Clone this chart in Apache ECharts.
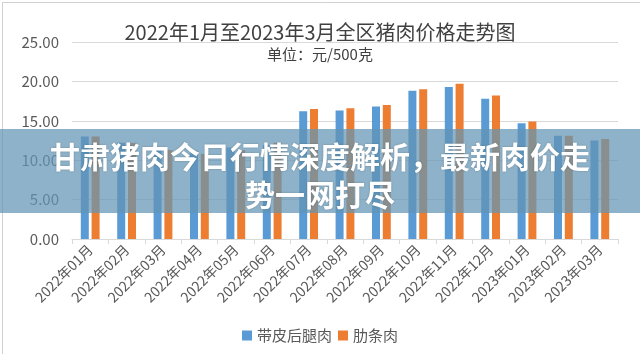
<!DOCTYPE html>
<html>
<head>
<meta charset="utf-8">
<script src="https://cdn.jsdelivr.net/npm/echarts@6/dist/echarts.min.js"></script>
<style>
  html, body { margin: 0; padding: 0; background: #fff; }
  #main { width: 640px; height: 354px; }
</style>
</head>
<body>
<div id="main"></div>
<script>
// 月份
var months = ['2022年01月','2022年02月','2022年03月','2022年04月','2022年05月','2022年06月',
    '2022年07月','2022年08月','2022年09月','2022年10月','2022年11月','2022年12月',
    '2023年01月','2023年02月','2023年03月'];
// 带皮后腿肉
var houtui = [13.0, 12.2, 11.6, 11.2, 11.6, 11.9, 16.2, 16.3, 16.8, 18.8, 19.3, 17.8, 14.7, 13.1, 12.5];
// 肋条肉
var leitiao = [13.0, 12.2, 11.3, 10.8, 11.3, 12.2, 16.5, 16.6, 17.0, 19.0, 19.7, 18.2, 14.9, 13.1, 12.7];
var seriesNames = ['带皮后腿肉', '肋条肉'];

var font = '"Noto Sans CJK SC", "Noto Sans", sans-serif';
var chart = echarts.init(document.getElementById('main'));

var option = {
    backgroundColor: '#fff',
    animation: false,
    title: {
        text: '2022年1月至2023年3月全区猪肉价格走势图',
        subtext: '单位：元/500克',
        left: 'center',
        top: 17,
        itemGap: 5,
        textStyle: { fontFamily: font, fontSize: 20, fontWeight: 'normal', color: '#404040' },
        subtextStyle: { fontFamily: font, fontSize: 15, color: '#404040' }
    },
    legend: {
        data: seriesNames,
        bottom: 6,
        left: 'center',
        itemWidth: 10,
        itemHeight: 10,
        itemGap: 6,
        icon: 'rect',
        textStyle: { fontFamily: font, fontSize: 15, color: '#595959' }
    },
    grid: { left: 72, right: 22, top: 42, bottom: 115 },
    xAxis: {
        type: 'category',
        data: months,
        axisLine: { lineStyle: { color: '#d9d9d9' } },
        axisTick: { show: true, length: 5, lineStyle: { color: '#d9d9d9' } },
        axisLabel: { rotate: 45, fontFamily: font, fontSize: 14, color: '#595959', margin: 8 }
    },
    yAxis: {
        type: 'value',
        min: 0,
        max: 25,
        interval: 5,
        axisLine: { show: false },
        axisTick: { show: false },
        splitLine: { lineStyle: { color: '#d9d9d9' } },
        axisLabel: {
            fontFamily: font, fontSize: 15, color: '#595959', margin: 13,
            formatter: function (v) { return v.toFixed(2); }
        }
    },
    series: [
        { name: seriesNames[0], type: 'bar', data: houtui, barWidth: 8, barGap: '35%',
          itemStyle: { color: '#5b9bd5' } },
        { name: seriesNames[1], type: 'bar', data: leitiao, barWidth: 8,
          itemStyle: { color: '#ed7d31' } }
    ],
    graphic: [
        {
            type: 'rect', left: 0, top: 0, z: 0, silent: true,
            shape: { x: 0.5, y: 0.5, width: 639, height: 353 },
            style: { fill: 'none', stroke: '#d0d0d0', lineWidth: 1 }
        },
        {
            type: 'rect', left: 0, top: 129, z: 100, silent: true,
            shape: { width: 640, height: 84 },
            style: { fill: 'rgba(98,148,180,0.72)' }
        },
        {
            type: 'text', x: 320, y: 138, z: 101, silent: true,
            style: {
                text: '甘肃猪肉今日行情深度解析，最新肉价走\n势一网打尽',
                fontFamily: font, fontSize: 30, fontWeight: 'bold',
                lineHeight: 38, fill: '#fff', align: 'center', verticalAlign: 'top',
                textShadowColor: 'rgba(0,0,0,0.25)', textShadowBlur: 2
            }
        }
    ]
};

chart.setOption(option);
</script>
</body>
</html>
